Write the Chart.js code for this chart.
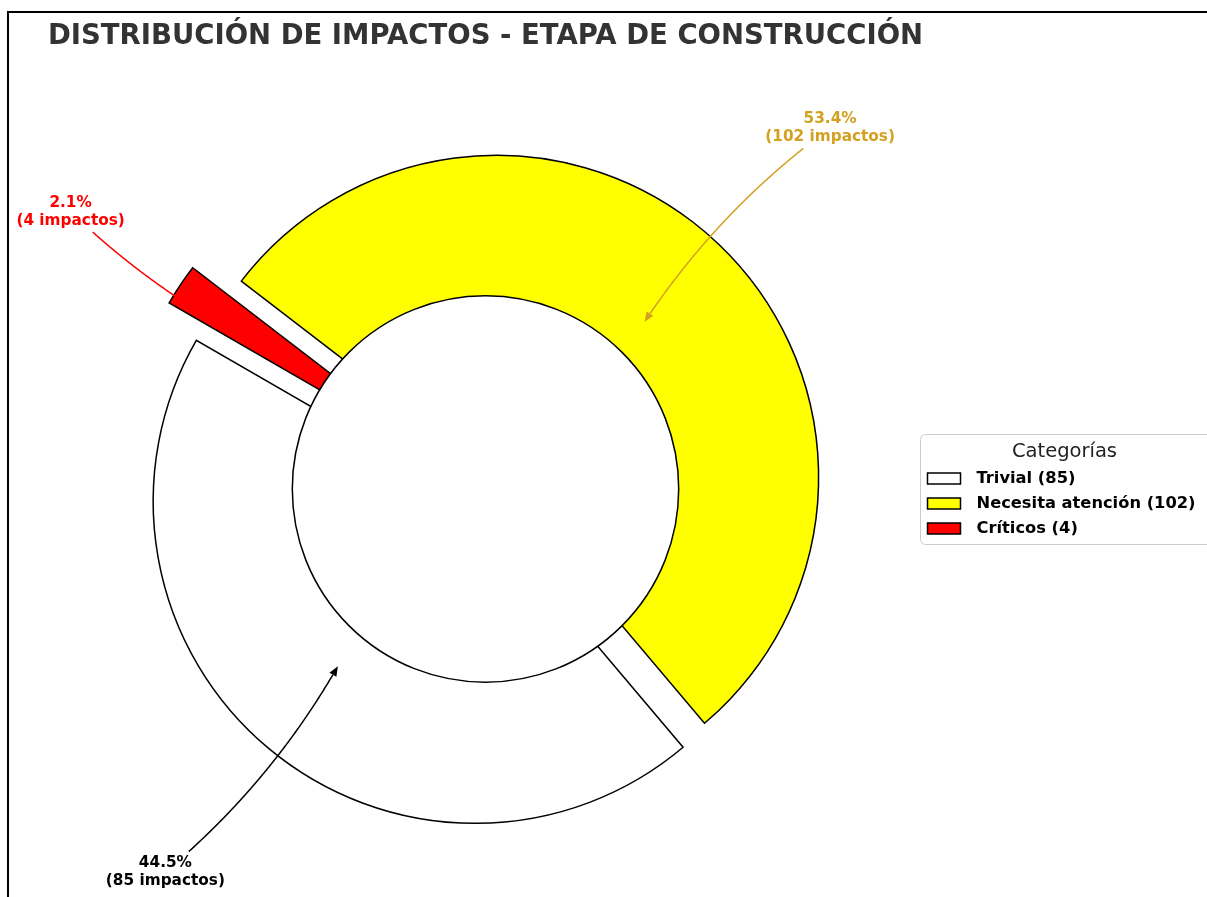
<!DOCTYPE html>
<html lang="es">
<head>
<meta charset="utf-8">
<title>Distribución de impactos - etapa de construcción</title>
<script src="https://cdn.jsdelivr.net/npm/chart.js@4.4.1/dist/chart.umd.min.js"></script>
<style>
  html, body { margin: 0; padding: 0; background: #fff; overflow: hidden; }
  #frame { position: absolute; left: 7px; top: 11px; width: 1300px; height: 1000px; border: 2px solid #000; }
  #wrap { position: absolute; left: 0; top: 0; width: 1207px; height: 897px; }
</style>
</head>
<body>
<div id="frame"></div>
<div id="wrap"><canvas id="myChart"></canvas></div>
<script>
'use strict';

let categories = ['Trivial', 'Necesita atención', 'Críticos'];
let impactCounts = [85, 102, 4];
let sliceColors = ['#ffffff', '#ffff00', '#ff0000'];
let labelColors = ['#000000', '#d4a020', '#ff0000'];
let explode = [0.05, 0.05, 0.14];

// matplotlib goes counter-clockwise, Chart.js clockwise -> reverse the order
let drawOrder = [2, 1, 0];
let pieRadius = 322;
let holeRatio = 0.6;
let labelRatio = 1.55;
let tipRatio = 0.71;
let arrowRad = 0.09;
let fontFamily = "'DejaVu Sans', 'Liberation Sans', sans-serif";

let total = impactCounts.reduce((a, b) => a + b, 0);

function pieCenter(chart) {
  let area = chart.chartArea;
  return { x: (area.left + area.right) / 2, y: (area.top + area.bottom) / 2 };
}

const explodePlugin = {
  id: 'explode',
  beforeDatasetsDraw(chart) {
    let c = pieCenter(chart);
    let meta = chart.getDatasetMeta(0);
    meta.data.forEach((arc, j) => {
      let i = drawOrder[j];
      let mid = (arc.startAngle + arc.endAngle) / 2;
      let d = explode[i] * arc.outerRadius;
      arc.x = c.x + Math.cos(mid) * d;
      arc.y = c.y + Math.sin(mid) * d;
    });
  }
};

function drawArrow(ctx, sx, sy, ex, ey, hw, hh, color) {
  let dx = ex - sx;
  let dy = ey - sy;
  let qx = (sx + ex) / 2 - dy * arrowRad;
  let qy = (sy + ey) / 2 + dx * arrowRad;
  let ang = Math.atan2(ey - qy, ex - qx);
  let headLen = 10;
  let headW = 4;
  let tipX = ex - Math.cos(ang) * 2;
  let tipY = ey - Math.sin(ang) * 2;
  let baseX = tipX - Math.cos(ang) * headLen;
  let baseY = tipY - Math.sin(ang) * headLen;

  ctx.save();
  ctx.strokeStyle = color;
  ctx.fillStyle = color;
  ctx.lineWidth = 1.5;
  ctx.beginPath();
  let started = false;
  for (let k = 0; k <= 300; k++) {
    let t = k / 300;
    let x = (1 - t) * (1 - t) * sx + 2 * t * (1 - t) * qx + t * t * ex;
    let y = (1 - t) * (1 - t) * sy + 2 * t * (1 - t) * qy + t * t * ey;
    if (Math.abs(x - sx) <= hw && Math.abs(y - sy) <= hh) continue;
    if (Math.hypot(x - tipX, y - tipY) < headLen) break;
    if (!started) { ctx.moveTo(x, y); started = true; } else { ctx.lineTo(x, y); }
  }
  ctx.lineTo(baseX, baseY);
  ctx.stroke();

  ctx.beginPath();
  ctx.moveTo(tipX, tipY);
  ctx.lineTo(baseX - Math.sin(ang) * headW, baseY + Math.cos(ang) * headW);
  ctx.lineTo(baseX + Math.sin(ang) * headW, baseY - Math.cos(ang) * headW);
  ctx.closePath();
  ctx.fill();
  ctx.restore();
}

const donutPlugin = {
  id: 'donutLabels',
  afterDatasetsDraw(chart) {
    let ctx = chart.ctx;
    let c = pieCenter(chart);
    let meta = chart.getDatasetMeta(0);
    let R = meta.data[0].outerRadius;

    // centre hole
    ctx.save();
    ctx.beginPath();
    ctx.arc(c.x, c.y, R * holeRatio, 0, Math.PI * 2);
    ctx.fillStyle = '#ffffff';
    ctx.fill();
    ctx.lineWidth = 1.5;
    ctx.strokeStyle = '#000000';
    ctx.stroke();
    ctx.restore();

    // percentage labels with arrows
    meta.data.forEach((arc, j) => {
      let i = drawOrder[j];
      let mid = (arc.startAngle + arc.endAngle) / 2;
      let tx = c.x + Math.cos(mid) * R * labelRatio;
      let ty = c.y + Math.sin(mid) * R * labelRatio;
      let ex = c.x + Math.cos(mid) * R * tipRatio;
      let ey = c.y + Math.sin(mid) * R * tipRatio;
      let line1 = (impactCounts[i] / total * 100).toFixed(1) + '%';
      let line2 = '(' + impactCounts[i] + ' impactos)';

      ctx.save();
      ctx.font = 'bold 15.3px ' + fontFamily;
      let w = Math.max(ctx.measureText(line1).width, ctx.measureText(line2).width);
      ctx.fillStyle = labelColors[i];
      ctx.textAlign = 'center';
      ctx.textBaseline = 'middle';
      ctx.fillText(line1, tx, ty - 9);
      ctx.fillText(line2, tx, ty + 9);
      ctx.restore();

      drawArrow(ctx, tx, ty, ex, ey, w / 2 + 3, 20, labelColors[i]);
    });
  }
};

const legendPlugin = {
  id: 'boxLegend',
  afterDraw(chart) {
    let ctx = chart.ctx;
    let c = pieCenter(chart);
    let left = chart.chartArea.right - 50.5;
    let top = Math.round(c.y - 55) + 0.5;
    let width = 300;
    let height = 110;
    let r = 5;

    ctx.save();
    ctx.beginPath();
    ctx.moveTo(left + r, top);
    ctx.lineTo(left + width - r, top);
    ctx.arcTo(left + width, top, left + width, top + r, r);
    ctx.lineTo(left + width, top + height - r);
    ctx.arcTo(left + width, top + height, left + width - r, top + height, r);
    ctx.lineTo(left + r, top + height);
    ctx.arcTo(left, top + height, left, top + height - r, r);
    ctx.lineTo(left, top + r);
    ctx.arcTo(left, top, left + r, top, r);
    ctx.closePath();
    ctx.fillStyle = 'rgba(255,255,255,0.8)';
    ctx.fill();
    ctx.strokeStyle = '#cccccc';
    ctx.lineWidth = 1;
    ctx.stroke();

    ctx.fillStyle = '#222222';
    ctx.font = '19.5px ' + fontFamily;
    ctx.textAlign = 'center';
    ctx.textBaseline = 'middle';
    ctx.fillText('Categorías', left + 144, top + 17);

    ctx.textAlign = 'left';
    ctx.font = 'bold 16.3px ' + fontFamily;
    categories.forEach((name, i) => {
      let y = top + 44 + i * 25;
      ctx.fillStyle = sliceColors[i];
      ctx.fillRect(left + 7, y - 5.5, 33, 11);
      ctx.strokeStyle = '#000000';
      ctx.lineWidth = 1.5;
      ctx.strokeRect(left + 7, y - 5.5, 33, 11);
      ctx.fillStyle = '#000000';
      ctx.fillText(name + ' (' + impactCounts[i] + ')', left + 56, y);
    });
    ctx.restore();
  }
};

Chart.defaults.font.family = fontFamily;

let chartCanvas = document.getElementById('myChart').getContext('2d');
const myChart = new Chart(chartCanvas, {
  type: 'pie',
  data: {
    labels: drawOrder.map(i => categories[i]),
    datasets: [{
      data: drawOrder.map(i => impactCounts[i]),
      backgroundColor: drawOrder.map(i => sliceColors[i]),
      borderColor: '#000000',
      borderWidth: 1.5,
      borderJoinStyle: 'miter',
      clip: false,
    }],
  },
  options: {
    responsive: true,
    maintainAspectRatio: false,
    animation: false,
    events: [],
    rotation: -60,
    radius: pieRadius,
    layout: { padding: { left: 0, right: 236, top: 0, bottom: 0 } },
    plugins: {
      legend: { display: false },
      tooltip: { enabled: false },
      title: {
        display: true,
        text: 'DISTRIBUCIÓN DE IMPACTOS - ETAPA DE CONSTRUCCIÓN',
        fullSize: false,
        color: '#333333',
        font: { family: fontFamily, size: 27.5, weight: 'bold', lineHeight: 1.2 },
        padding: { top: 20.5, bottom: 27.5 },
      },
    },
  },
  plugins: [explodePlugin, donutPlugin, legendPlugin],
});
</script>
</body>
</html>
